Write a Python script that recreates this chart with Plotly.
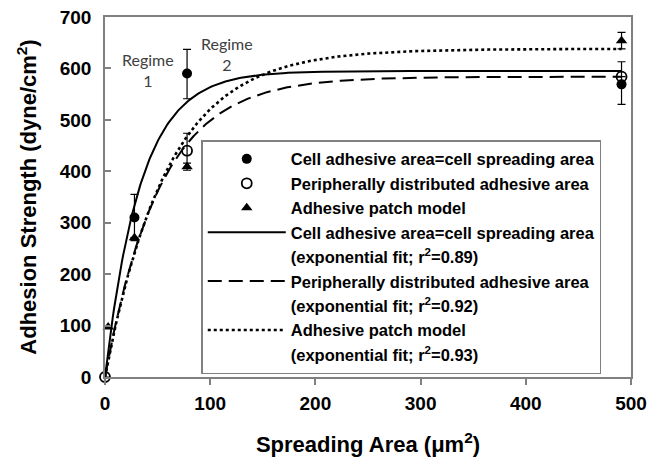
import numpy as np
import plotly.graph_objects as go

# ---- data ----
full_x = [28, 78, 491]
full_y = [310, 590, 569]
full_err_plus = [45, 47, 44]
full_err_minus = [45, 49, 39]

peri_x = [0, 78, 491]
peri_y = [0, 440, 584]
peri_err = [0, 34, 0]

patch_x = [3, 28, 78, 491]
patch_y = [97, 271, 409, 654]
patch_err = [0, 0, 7, 16]

# exponential fit parameters  y = A * (1 - exp(-x / tau))
fit_full = (595, 34)
fit_peri = (584, 52)
fit_patch = (638, 59)

x_ticks = [0, 100, 200, 300, 400, 500]
y_ticks = [0, 100, 200, 300, 400, 500, 600, 700]

xs = np.linspace(0, 491, 400)


def expfit(p):
    A, tau = p
    return A * (1 - np.exp(-xs / tau))


LEG = "<b>%s</b>"
fig = go.Figure()

fig.add_trace(go.Scatter(
    x=full_x, y=full_y, mode="markers", name=LEG % "Cell adhesive area=cell spreading area",
    legendgroup="g1", cliponaxis=False,
    marker=dict(symbol="circle", size=10, color="black"),
    error_y=dict(type="data", array=full_err_plus, arrayminus=full_err_minus,
                 color="black", thickness=1.2, width=4),
))
fig.add_trace(go.Scatter(
    x=peri_x, y=peri_y, mode="markers", name=LEG % "Peripherally distributed adhesive area",
    legendgroup="g2", cliponaxis=False,
    marker=dict(symbol="circle-open", size=10, color="black", line=dict(width=1.8)),
    error_y=dict(type="data", array=peri_err, color="black", thickness=1.2, width=4),
))
fig.add_trace(go.Scatter(
    x=patch_x, y=patch_y, mode="markers", name=LEG % "Adhesive patch model",
    legendgroup="g3", cliponaxis=False,
    marker=dict(symbol="triangle-up", size=10, color="black"),
    error_y=dict(type="data", array=patch_err, color="black", thickness=1.2, width=4),
))

fits = [
    (fit_full, "solid", "Cell adhesive area=cell spreading area", "0.89"),
    (fit_peri, "14px,7px", "Peripherally distributed adhesive area", "0.92"),
    (fit_patch, "dot", "Adhesive patch model", "0.93"),
]
for i, (p, dash, nm, r2) in enumerate(fits):
    fig.add_trace(go.Scatter(
        x=xs, y=expfit(p), mode="lines", name=LEG % nm, legendgroup="f%d" % i,
        line=dict(color="black", width=2 if dash != "dot" else 2.6, dash=dash),
    ))
    fig.add_trace(go.Scatter(
        x=[None], y=[None], mode="lines", legendgroup="e%d" % i,
        name=LEG % ("(exponential fit; r<sup>2</sup>=%s)" % r2),
        line=dict(color="rgba(0,0,0,0)", width=0),
        hoverinfo="skip",
    ))

axis_common = dict(
    showline=True, linecolor="#808080", linewidth=1.5, mirror=True,
    showgrid=False, zeroline=False, automargin=False, ticklabeloverflow="allow",
    tickfont=dict(family="Liberation Sans, Arial", size=19, color="black", weight="bold"),
    ticks="outside", ticklen=6, tickcolor="#808080", tickwidth=1.5,
)

fig.update_xaxes(
    range=[0, 500], tickvals=x_ticks, **axis_common, ticklabelstandoff=2,
    title=dict(text="<b>Spreading Area (μm<sup>2</sup>)</b>",
               font=dict(family="Liberation Sans, Arial", size=22, color="black"),
               standoff=24),
)
fig.update_yaxes(
    range=[0, 700], tickvals=y_ticks, **{**axis_common, "ticks": "inside"},
    ticklabelstandoff=8,
    title=dict(text="<b>Adhesion Strength (dyne/cm<sup>2</sup>)</b>",
               font=dict(family="Liberation Sans, Arial", size=22, color="black"),
               standoff=17),
)

fig.add_annotation(x=41, y=596, text="Regime<br>1", showarrow=False,
                   font=dict(family="Lato", size=16, color="#404040"))
fig.add_annotation(x=116, y=628, text="Regime<br>2", showarrow=False,
                   font=dict(family="Lato", size=16, color="#404040"))

# the page body adds an 8 px offset, so the figure is 8 px smaller
fig.update_layout(
    width=656, height=450,
    margin=dict(l=97, r=33, t=9, b=81),
    plot_bgcolor="white", paper_bgcolor="white",
    showlegend=True,
    legend=dict(
        x=0.183, y=0.658, xanchor="left", yanchor="top",
        bgcolor="white", bordercolor="#808080", borderwidth=1.5,
        font=dict(family="Liberation Sans, Arial", size=16.5, color="black"),
        itemwidth=78, traceorder="grouped", tracegroupgap=0,
    ),
)

fig.write_html("out.html")
